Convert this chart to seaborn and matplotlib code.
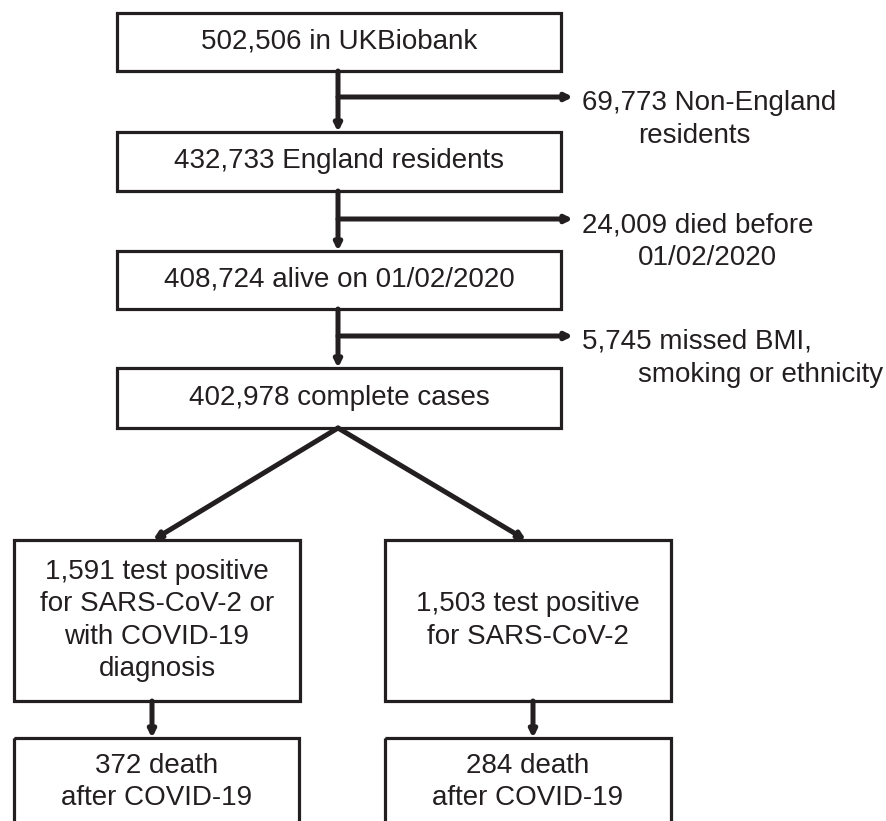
import matplotlib.pyplot as plt
import seaborn as sns
from matplotlib.patches import Rectangle

# flow counts and labels
main_counts = ["502,506", "432,733", "408,724", "402,978"]
main_labels = ["in UKBiobank", "England residents", "alive on 01/02/2020", "complete cases"]
excluded_counts = ["69,773", "24,009", "5,745"]
excluded_first = ["Non-England", "died before", "missed BMI,"]
excluded_second = ["residents", "01/02/2020", "smoking or ethnicity"]
branch_labels = ["1,591 test positive\nfor SARS-CoV-2 or\nwith COVID-19\ndiagnosis",
                 "1,503 test positive\nfor SARS-CoV-2"]
death_counts = [372, 284]

sns.set_theme(style="white")
plt.rcParams["font.family"] = ["Liberation Sans", "DejaVu Sans"]

fig = plt.figure(figsize=(8.86, 8.21), dpi=100)
ax = fig.add_axes([0, 0, 1, 1])
ax.set_xlim(0, 886)
ax.set_ylim(821, 0)
ax.axis("off")

INK = "#231f20"
FS = 20
LS = 1.32
BOX_LW = 2.3
ARR_LW = 3.6


def frame(x0, y0, x1, y1):
    ax.add_patch(Rectangle((x0, y0), x1 - x0, y1 - y0, fill=False,
                           edgecolor=INK, lw=BOX_LW, zorder=2))


def box(x0, y0, x1, y1, text):
    frame(x0, y0, x1, y1)
    ax.text((x0 + x1) / 2, (y0 + y1) / 2, text, ha="center", va="center",
            fontsize=FS, color=INK, linespacing=LS)


def arrow(x0, y0, x1, y1):
    ax.annotate("", xy=(x1, y1), xytext=(x0, y0),
                arrowprops=dict(arrowstyle="-|>", color=INK, lw=ARR_LW,
                                mutation_scale=10, shrinkA=0, shrinkB=0))


# main column
main_boxes = [(117, 13, 561, 71), (117, 132, 561, 191),
              (117, 251, 561, 309), (117, 368, 561, 428)]
trunk_x = 338
side_y = [97, 219, 336]
for i, (c, lab) in enumerate(zip(main_counts, main_labels)):
    box(*main_boxes[i], f"{c} {lab}")
for i in range(3):
    arrow(trunk_x, main_boxes[i][3], trunk_x, main_boxes[i + 1][1])
    arrow(trunk_x, side_y[i], 573, side_y[i])

# exclusion labels
for i in range(3):
    ax.text(582, side_y[i] + 6, f"{excluded_counts[i]} {excluded_first[i]}",
            ha="left", va="center", fontsize=FS, color=INK)
    ax.text(638, side_y[i] + 39, excluded_second[i],
            ha="left", va="center", fontsize=FS, color=INK)

# branches
branch_boxes = [(14, 540, 300, 701), (385, 540, 671, 701)]
death_boxes = [(14, 738, 299, 840), (385, 738, 671, 840)]
tips = [153, 526]
downs = [152, 533]
for i in range(2):
    arrow(trunk_x, 428, tips[i], branch_boxes[i][1])
    box(*branch_boxes[i], branch_labels[i])
    arrow(downs[i], branch_boxes[i][3], downs[i], death_boxes[i][1])
    x0, y0, x1, y1 = death_boxes[i]
    frame(x0, y0, x1, y1)
    ax.text((x0 + x1) / 2, 782, f"{death_counts[i]} death\nafter COVID-19",
            ha="center", va="center", fontsize=FS, color=INK, linespacing=LS)

fig.savefig("out.png", dpi=100)
